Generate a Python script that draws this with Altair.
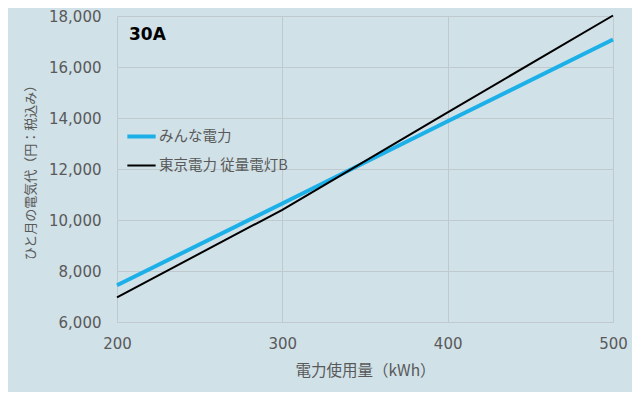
import altair as alt
import pandas as pd

kwh = [200, 300, 400, 500]
minna = [7440, 10650, 13870, 17080]
tepco = [6970, 10400, 14220, 18020]
series_names = ["みんな電力", "東京電力 従量電灯B"]

rows = []
for k, a, b in zip(kwh, minna, tepco):
    rows.append({"kwh": k, "cost": a, "series": series_names[0]})
    rows.append({"kwh": k, "cost": b, "series": series_names[1]})
df = pd.DataFrame(rows)

FONT = "Noto Sans CJK JP"
NUMFONT = "DejaVu Sans"
GRAY = "#595959"

leg = dict(title=None, orient="none", legendX=8, legendY=104,
           symbolType="stroke", symbolSize=800,
           labelFontSize=14.5, labelColor=GRAY, labelFont=FONT,
           rowPadding=5, labelOffset=1)

lines = alt.Chart(df).mark_line().encode(
    x=alt.X("kwh:Q", scale=alt.Scale(domain=[200, 500]),
            axis=alt.Axis(values=[200, 300, 400, 500], title="電力使用量（kWh）",
                          format="d", labelFlush=False)),
    y=alt.Y("cost:Q", scale=alt.Scale(domain=[6000, 18000]),
            axis=alt.Axis(values=list(range(6000, 18001, 2000)),
                          title="ひと月の電気代（円：税込み）", format=",.0f", labelFlush=False)),
    color=alt.Color("series:N", scale=alt.Scale(domain=series_names,
                                                range=["#1cb0e8", "#000000"]),
                    legend=alt.Legend(**leg)),
    strokeWidth=alt.StrokeWidth("series:N", scale=alt.Scale(domain=series_names, range=[4, 2]),
                                legend=alt.Legend(**leg)),
    order=alt.Order("series:N", sort="descending"),
)

title_text = alt.Chart(pd.DataFrame({"t": ["30A"]})).mark_text(
    align="left", baseline="middle", fontSize=17, fontWeight="bold", font=NUMFONT, color="#000000"
).encode(x=alt.value(12), y=alt.value(19), text="t:N")

chart = alt.layer(lines, title_text).properties(
    width=496, height=306,
    background="#d0e1e8",
    padding={"left": 109, "top": 8, "right": 19, "bottom": 70},
    autosize=alt.AutoSizeParams(type="none"),
).configure_view(stroke=None).configure_axis(
    grid=True, gridColor="#bfc9ce", gridWidth=1, domain=False, ticks=False,
    labelFont=NUMFONT, labelFontSize=15, labelColor=GRAY,
    titleFont=FONT, titleColor=GRAY, titleFontWeight="normal",
).configure_axisY(labelPadding=16, titlePadding=11, titleFontSize=13).configure_axisX(
    labelPadding=14, titlePadding=12, titleFontSize=15.5)

chart.save("out.html", embed_options={"renderer": "svg", "actions": False})
